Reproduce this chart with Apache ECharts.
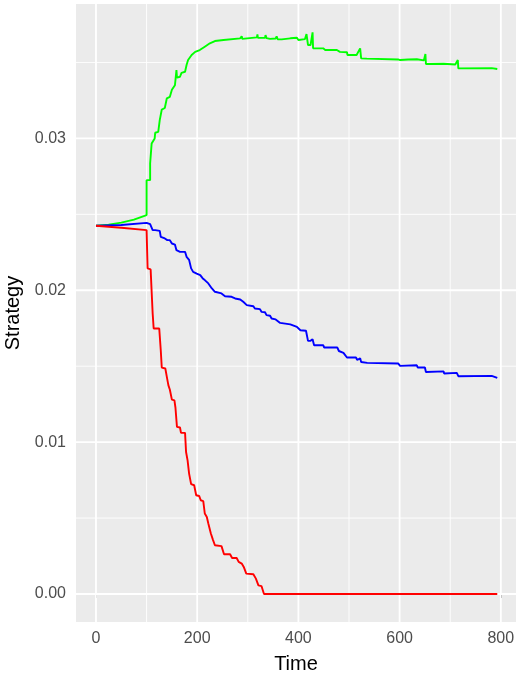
<!DOCTYPE html>
<html>
<head>
<meta charset="utf-8">
<script src="https://cdn.jsdelivr.net/npm/echarts@6/dist/echarts.min.js"></script>
<style>
  html, body { margin: 0; padding: 0; background: #fff; }
  #chart { width: 516px; height: 676px; }
</style>
</head>
<body>
<div id="chart"></div>
<script>
// tick positions
const xTicks = [0, 200, 400, 600, 800];
const xMinor = [100, 300, 500, 700];
const yTicks = [0, 0.01, 0.02, 0.03];
const yMinor = [0.005, 0.015, 0.025, 0.035];

const xRange = [-39.5, 830];
const yRange = [-0.001845, 0.03885];

// [time, strategy]
const greenData = [
  [0, 0.02425], [25, 0.02432], [50, 0.02445], [75, 0.02465], [100, 0.02495],
  [100, 0.02725], [107, 0.02725], [107, 0.02835], [110, 0.02967], [113, 0.02975],
  [116, 0.0300], [117, 0.03037], [123, 0.03043], [126, 0.0312], [130, 0.0319],
  [136, 0.0320], [140, 0.03264], [146, 0.03274], [150, 0.0332], [156, 0.0335],
  [159, 0.0345], [160, 0.0340], [166, 0.03406], [169, 0.03432], [176, 0.03439],
  [179, 0.03483], [182, 0.03516], [189, 0.03549], [196, 0.0357], [205, 0.03582],
  [215, 0.03604], [225, 0.03626], [235, 0.03641], [252, 0.03648], [285, 0.03659],
  [288, 0.03673], [289, 0.03655], [318, 0.03665], [319, 0.03685], [320, 0.03662],
  [334, 0.03662], [335, 0.0368], [337, 0.0366], [344, 0.03655], [355, 0.03658],
  [357, 0.03672], [359, 0.03653], [367, 0.03652], [384, 0.03659], [397, 0.03663],
  [400, 0.03648], [413, 0.03654], [416, 0.03687], [419, 0.03615], [424, 0.03615],
  [428, 0.03698], [429, 0.03593], [449, 0.03593], [453, 0.03582], [476, 0.03582],
  [482, 0.0357], [496, 0.03567], [497, 0.03549], [515, 0.03549], [522, 0.03593],
  [524, 0.03527], [535, 0.03525], [538, 0.03516], [597, 0.0352], [601, 0.03516],
  [617, 0.0352], [634, 0.03521], [635, 0.03511], [648, 0.03514], [651, 0.03556],
  [652, 0.0349], [687, 0.03492], [688, 0.03483], [710, 0.03487], [715, 0.03516],
  [716, 0.03461], [782, 0.03463], [784, 0.03457], [793, 0.03457]
];

const blueData = [
  [0, 0.02425], [50, 0.0243], [100, 0.02444], [107, 0.02435], [112, 0.02396],
  [117, 0.02396], [119, 0.02385], [126, 0.02391], [128, 0.02352], [136, 0.02341],
  [141, 0.0233], [146, 0.0233], [150, 0.02308], [156, 0.02301], [159, 0.02264],
  [166, 0.02253], [176, 0.02253], [179, 0.0222], [184, 0.022], [188, 0.02144],
  [192, 0.02121], [199, 0.0211], [206, 0.021], [211, 0.02078], [215, 0.02067],
  [222, 0.02045], [229, 0.02012], [235, 0.0199], [248, 0.01979], [255, 0.01961],
  [268, 0.01957], [275, 0.01946], [285, 0.01939], [291, 0.01924], [298, 0.01902],
  [311, 0.01895], [314, 0.0188], [324, 0.01876], [327, 0.01858], [334, 0.01855],
  [337, 0.01836], [344, 0.01832], [347, 0.01814], [355, 0.01808],
  [364, 0.01785], [367, 0.01775], [384, 0.01775], [385, 0.01763],
  [397, 0.01759], [400, 0.01748], [404, 0.01737], [415, 0.01733], [419, 0.01667],
  [424, 0.01667], [428, 0.01678], [431, 0.01638], [449, 0.01638], [451, 0.01623],
  [477, 0.01623], [480, 0.016], [489, 0.01588], [496, 0.01557], [514, 0.01557],
  [516, 0.01541], [522, 0.01552], [524, 0.01528], [536, 0.01522], [597, 0.01518],
  [601, 0.01502], [634, 0.01506], [636, 0.01491], [650, 0.01491], [652, 0.01462],
  [687, 0.01466], [688, 0.01452], [713, 0.01456], [716, 0.01434], [782, 0.01436],
  [784, 0.01423], [793, 0.01423]
];

const redData = [
  [0, 0.02425], [50, 0.02412], [100, 0.02396], [102, 0.02144], [108, 0.02137],
  [110, 0.0199], [112, 0.01847], [114, 0.01748], [125, 0.01748], [128, 0.01605],
  [130, 0.01491], [137, 0.01485], [140, 0.0143], [143, 0.01375], [146, 0.01345],
  [150, 0.0128], [155, 0.01275], [157, 0.01228], [160, 0.011], [166, 0.01096],
  [168, 0.01061], [176, 0.01061], [178, 0.00935], [181, 0.0088], [184, 0.00793],
  [188, 0.00723], [194, 0.00716], [198, 0.0065], [204, 0.00645], [207, 0.00617],
  [212, 0.00612], [215, 0.0053], [219, 0.00507], [222, 0.00464], [227, 0.00398],
  [231, 0.00358], [235, 0.00321], [248, 0.00315], [253, 0.00262], [265, 0.00262],
  [269, 0.00237], [278, 0.00237], [282, 0.00211], [288, 0.002], [292, 0.00178],
  [297, 0.00134], [311, 0.0013], [316, 0.00101], [321, 0.00057], [327, 0.00052],
  [332, 0], [793, 0]
];

const font = '"Liberation Sans", Arial, sans-serif';

// ggplot-style white grid, drawn under the data through the axis scales
function renderGrid(params, api) {
  const children = [];
  const addLine = (p1, p2, w) => children.push({
    type: 'line',
    shape: { x1: p1[0], y1: p1[1], x2: p2[0], y2: p2[1] },
    style: { stroke: '#ffffff', lineWidth: w }
  });
  xMinor.forEach(v => addLine(api.coord([v, yRange[0]]), api.coord([v, yRange[1]]), 0.9));
  yMinor.forEach(v => addLine(api.coord([xRange[0], v]), api.coord([xRange[1], v]), 0.9));
  xTicks.forEach(v => addLine(api.coord([v, yRange[0]]), api.coord([v, yRange[1]]), 1.8));
  yTicks.forEach(v => addLine(api.coord([xRange[0], v]), api.coord([xRange[1], v]), 1.8));
  return { type: 'group', children: children };
}

function stratLine(data, color) {
  return {
    type: 'line',
    data: data,
    showSymbol: false,
    symbol: 'none',
    z: 5,
    lineStyle: { color: color, width: 1.9 },
    emphasis: { disabled: true }
  };
}

const chart = echarts.init(document.getElementById('chart'));
chart.setOption({
  animation: false,
  backgroundColor: '#ffffff',
  grid: {
    left: 76, top: 4, width: 440, height: 618,
    containLabel: false,
    outerBoundsMode: 'none',
    show: true, backgroundColor: '#EBEBEB', borderWidth: 0
  },
  xAxis: {
    type: 'value',
    min: xRange[0],
    max: xRange[1],
    name: 'Time',
    nameLocation: 'middle',
    nameGap: 32,
    nameTextStyle: { color: '#000', fontSize: 20, fontFamily: font },
    axisLine: { show: false },
    splitLine: { show: false },
    axisTick: { show: true, customValues: xTicks, length: 4, lineStyle: { color: '#333', width: 1 } },
    axisLabel: { customValues: xTicks, color: '#4D4D4D', fontSize: 16, fontFamily: font, margin: 9 }
  },
  yAxis: {
    type: 'value',
    min: yRange[0],
    max: yRange[1],
    name: 'Strategy',
    nameLocation: 'middle',
    nameGap: 48,
    nameTextStyle: { color: '#000', fontSize: 20, fontFamily: font },
    axisLine: { show: false },
    splitLine: { show: false },
    axisTick: { show: true, customValues: yTicks, length: 4, lineStyle: { color: '#333', width: 1 } },
    axisLabel: {
      customValues: yTicks, color: '#4D4D4D', fontSize: 16, fontFamily: font, margin: 10,
      formatter: v => v.toFixed(2)
    }
  },
  series: [
    {
      type: 'custom',
      z: 1,
      silent: true,
      clip: true,
      data: [[0, 0]],
      renderItem: renderGrid
    },
    stratLine(greenData, '#00FF00'),
    stratLine(blueData, '#0000FF'),
    stratLine(redData, '#FF0000')
  ]
});
</script>
</body>
</html>
